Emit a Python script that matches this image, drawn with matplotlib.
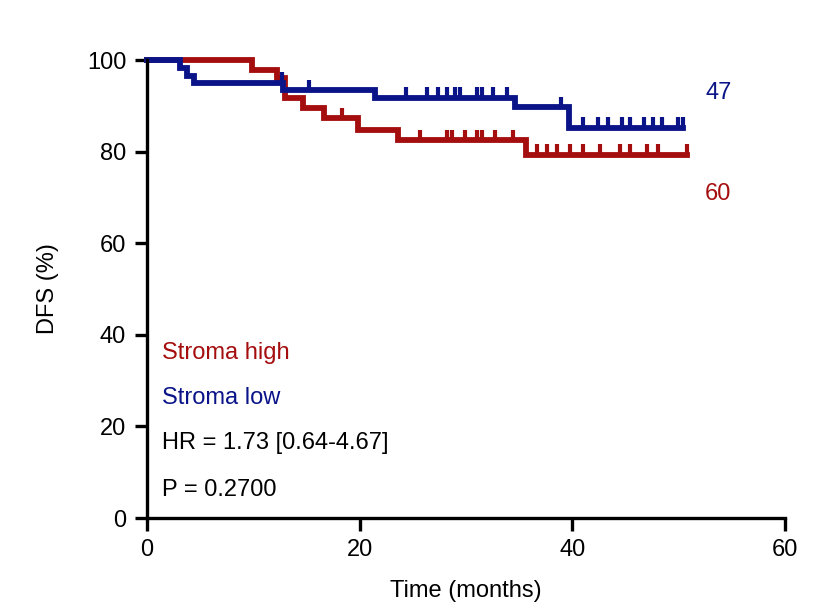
import matplotlib.pyplot as plt

# step curves: time of each level change and the survival level after it
high_times = [0, 9.9, 12.2, 13.0, 14.7, 16.6, 19.8, 23.6, 35.6, 50.8]
high_surv = [100, 97.8, 96.0, 91.7, 89.5, 87.3, 84.7, 82.5, 79.3, 79.3]
high_censor = [18.3, 25.7, 28.2, 28.7, 29.9, 31.0, 31.5, 32.7, 34.4,
               36.7, 37.6, 38.6, 39.8, 41.0, 42.6, 44.5, 45.4, 47.0, 48.1, 50.8]

low_times = [0, 3.1, 3.8, 4.4, 12.8, 21.4, 34.6, 39.7, 50.4]
low_surv = [100, 98.3, 96.6, 95.0, 93.4, 91.7, 89.7, 85.2, 85.2]
low_censor = [12.7, 15.2, 24.4, 26.3, 27.4, 28.2, 29.0, 29.4, 31.0, 31.5, 32.5, 33.9,
              38.9, 41.0, 42.4, 43.4, 44.7, 45.4, 46.7, 47.6, 48.4, 49.9, 50.4]

RED = "#a50e0e"
BLUE = "#0a1488"
FS = 17


def level_at(times, surv, t):
    value = surv[0]
    for ti, si in zip(times, surv):
        if ti <= t:
            value = si
    return value


plt.rcParams["font.family"] = ["Liberation Sans", "DejaVu Sans"]
fig = plt.figure(figsize=(8.32, 6.10), dpi=100)
ax = fig.add_axes([0.1767, 0.1508, 0.7668, 0.7508])

for times, surv, cens, color in [
    (high_times, high_surv, high_censor, RED),
    (low_times, low_surv, low_censor, BLUE),
]:
    ax.step(times, surv, where="post", color=color, lw=4.2, solid_joinstyle="miter",
            clip_on=False)
    cy = [level_at(times, surv, c) + 1.0 for c in cens]
    ax.plot(cens, cy, ls="none", marker="|", ms=9, mew=3.0, color=color, clip_on=False)

ax.set_xlim(0, 60)
ax.set_ylim(0, 100)
ax.set_xticks([0, 20, 40, 60])
ax.set_yticks([0, 20, 40, 60, 80, 100])
ax.spines[["top", "right"]].set_visible(False)
for side in ["left", "bottom"]:
    ax.spines[side].set_linewidth(2.4)
ax.tick_params(width=2.4, length=9, labelsize=FS, pad=6)
ax.set_xlabel("Time (months)", fontsize=FS, labelpad=14)
ax.set_ylabel("DFS (%)", fontsize=FS, labelpad=20)

ax.text(1.4, 36, "Stroma high", color=RED, fontsize=FS, va="center")
ax.text(1.4, 26.2, "Stroma low", color=BLUE, fontsize=FS, va="center")
ax.text(1.4, 16.4, "HR = 1.73 [0.64-4.67]", color="black", fontsize=FS, va="center")
ax.text(1.4, 6.1, "P = 0.2700", color="black", fontsize=FS, va="center")
ax.text(52.5, 92.8, "47", color=BLUE, fontsize=FS, va="center")
ax.text(52.5, 70.7, "60", color=RED, fontsize=FS, va="center")

fig.savefig("out.png", dpi=100)
